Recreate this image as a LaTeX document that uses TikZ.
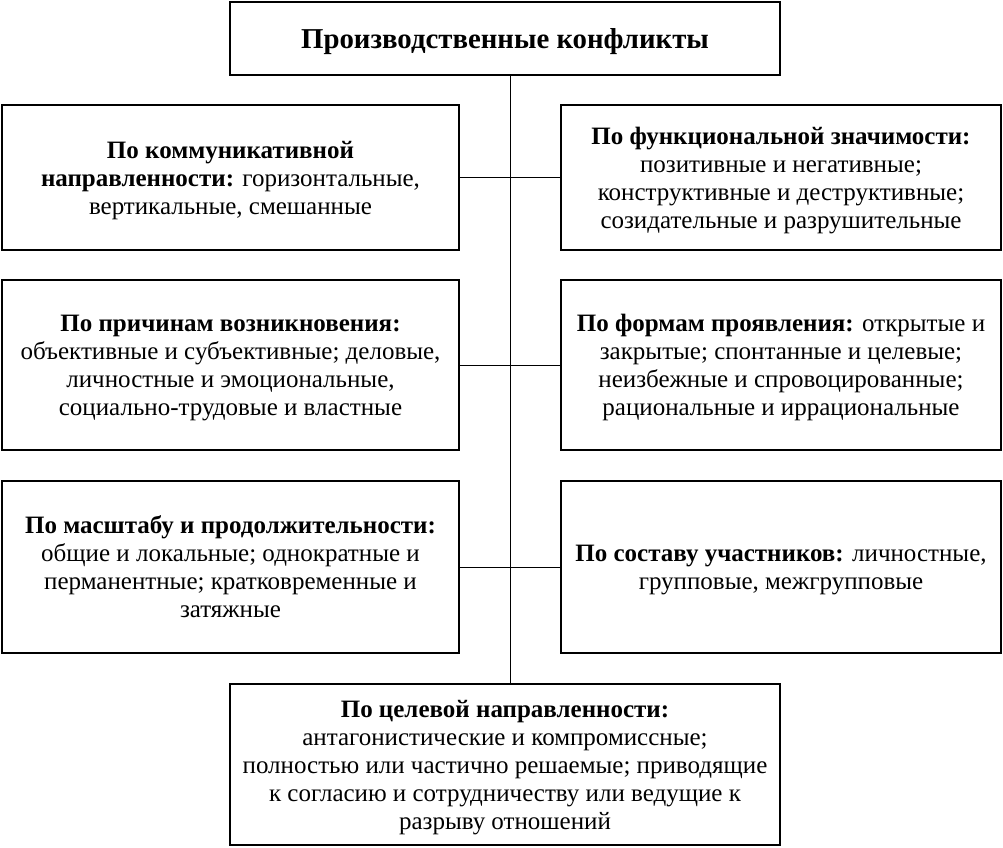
\documentclass[tikz,border=0pt]{standalone}
\usepackage{fontspec}
\setmainfont{Liberation Serif}
\usetikzlibrary{positioning}

\begin{document}
\begin{tikzpicture}
        [
            x=1pt, y=-1pt,
            box/.style={rectangle,draw=black,line width=1.6pt,align=center,inner sep=0pt,
                font=\fontsize{25}{28}\selectfont, text depth=-4.5pt},
            leftbox/.style={box,minimum width=457pt},
            rightbox/.style={box,minimum width=440pt},
            link/.style={draw=black,line width=1pt},
        ]
    \useasboundingbox (0,0) rectangle (1003,847);

    \node[box,minimum width=550pt,minimum height=73pt,text depth=0pt,
          font=\fontsize{28.8}{30}\selectfont\bfseries]
        (title) at (505,38.5) {Производственные конфликты};

    \node[leftbox,minimum height=145pt] (comm) at (230.5,177.5)
        {\textbf{По коммуникативной}\\\textbf{направленности:} горизонтальные,\\вертикальные, смешанные};
    \node[rightbox,minimum height=145pt] (func) at (781,177.5)
        {\textbf{По функциональной значимости:}\\позитивные и негативные;\\конструктивные и деструктивные;\\созидательные и разрушительные};

    \node[leftbox,minimum height=170pt] (cause) at (230.5,365)
        {\textbf{По причинам возникновения:}\\объективные и субъективные; деловые,\\личностные и эмоциональные,\\социально-трудовые и властные};
    \node[rightbox,minimum height=170pt] (form) at (781,365)
        {\textbf{По формам проявления:} открытые и\\закрытые; спонтанные и целевые;\\неизбежные и спровоцированные;\\рациональные и иррациональные};

    \node[leftbox,minimum height=172pt] (scale) at (230.5,567)
        {\textbf{По масштабу и продолжительности:}\\общие и локальные; однократные и\\перманентные; кратковременные и\\затяжные};
    \node[rightbox,minimum height=172pt] (party) at (781,567)
        {\textbf{По составу участников:} личностные,\\групповые, межгрупповые};

    \node[box,minimum width=550pt,minimum height=161pt] (goal) at (505,764.5)
        {\textbf{По целевой направленности:}\\антагонистические и компромиссные;\\полностью или частично решаемые; приводящие\\к согласию и сотрудничеству или ведущие к\\разрыву отношений};

    % spine and branches
    \coordinate (spine) at (510,0);
    \draw[link] (title.south -| spine) -- (goal.north -| spine);
    \draw[link] (comm.east) -- (func.west);
    \draw[link] (cause.east) -- (form.west);
    \draw[link] (scale.east) -- (party.west);
\end{tikzpicture}
\end{document}
